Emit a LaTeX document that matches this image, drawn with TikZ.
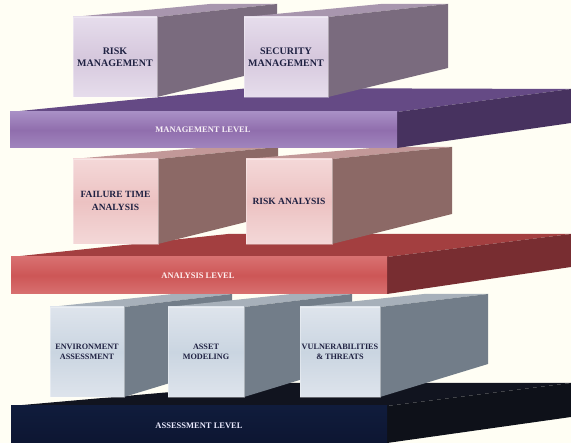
\documentclass[tikz,border=0pt]{standalone}
\usepackage{fontspec}
\setmainfont{Liberation Serif}
\usetikzlibrary{calc}

\definecolor{paper}{RGB}{255,254,244}
\definecolor{ink}{RGB}{31,33,66}
% management level
\definecolor{mgslabA}{RGB}{168,143,197}
\definecolor{mgslabB}{RGB}{144,110,173}
\definecolor{mgslabtop}{RGB}{101,74,133}
\definecolor{mgslabside}{RGB}{71,50,95}
\definecolor{mgboxA}{RGB}{230,221,236}
\definecolor{mgboxB}{RGB}{214,200,221}
\definecolor{mgboxtop}{RGB}{168,150,174}
\definecolor{mgboxside}{RGB}{122,107,126}
% analysis level
\definecolor{anslabA}{RGB}{216,112,112}
\definecolor{anslabB}{RGB}{205,86,86}
\definecolor{anslabtop}{RGB}{163,63,64}
\definecolor{anslabside}{RGB}{120,45,49}
\definecolor{anboxA}{RGB}{244,216,216}
\definecolor{anboxB}{RGB}{236,194,194}
\definecolor{anboxtop}{RGB}{194,152,152}
\definecolor{anboxside}{RGB}{140,105,102}
% assessment level
\definecolor{asslabA}{RGB}{16,28,60}
\definecolor{asslabB}{RGB}{13,22,50}
\definecolor{asslabtop}{RGB}{17,20,31}
\definecolor{asslabside}{RGB}{14,17,25}
\definecolor{asboxA}{RGB}{222,228,236}
\definecolor{asboxB}{RGB}{202,213,225}
\definecolor{asboxtop}{RGB}{167,176,186}
\definecolor{asboxside}{RGB}{114,125,137}

\tikzset{
  boxlabel/.style={font=\bfseries, text=ink, align=center, inner sep=0pt},
  levellabel/.style={font=\bfseries\fontsize{8.5}{10}\selectfont, inner sep=0pt},
  face/.style={draw=white, draw opacity=0.35, line width=0.3pt},
}

\begin{document}
\begin{tikzpicture}[x=1pt, y=-1pt]
  \useasboundingbox (0,0) rectangle (571,443);
  \fill[paper] (0,0) rectangle (571,443);
  \clip (0,0) rectangle (571,443);

  % assessment level
  \fill[asslabtop] (11,406) -- (387,406) -- (571,383) -- (274,383) -- cycle;
  \fill[asslabside] (387,406) -- (571,383) -- (571,417) -- (387,443) -- cycle;
  \shade[top color=asslabA, bottom color=asslabB] (11,406) rectangle (387,443);
  \node[levellabel, text=white!92!blue] (assesslevel) at (199,426) {ASSESSMENT LEVEL};

  \foreach \nm/\xa/\xb/\txt in {envassess/50/124/{ENVIRONMENT\\ASSESSMENT},
      assetmodel/168/244/{ASSET\\MODELING}, vulnthreat/300/380/{VULNERABILITIES\\\& THREATS}} {
    \pgfmathsetmacro{\xr}{\xb+108}
    \pgfmathsetmacro{\xl}{\xr-0.8*(\xb-\xa)}
    \fill[asboxtop] (\xa,307) -- (\xb,307) -- (\xr,294) -- (\xl,294) -- cycle;
    \fill[asboxside] (\xb,307) -- (\xr,294) -- (\xr,364) -- (\xb,397) -- cycle;
    \shade[face, top color=asboxA, bottom color=asboxA, middle color=asboxB] (\xa,307) rectangle (\xb,397);
    \node[boxlabel, font=\bfseries\fontsize{8.2}{10.6}\selectfont] (\nm) at ({(\xa+\xb)/2},352) {\txt};
  }

  % analysis level
  \fill[anslabtop] (11,257) -- (387,257) -- (571,234) -- (228,234) -- cycle;
  \fill[anslabside] (387,257) -- (571,234) -- (571,267) -- (387,294) -- cycle;
  \shade[top color=anslabA, bottom color=anslabA, middle color=anslabB] (11,257) rectangle (387,294);
  \node[levellabel, text=white!94!red] (analysislevel) at (198,276) {ANALYSIS LEVEL};

  \foreach \nm/\xa/\xb/\txt in {failtime/73/158/{FAILURE TIME\\ANALYSIS},
      riskanalysis/246/332/{RISK ANALYSIS}} {
    \pgfmathsetmacro{\xr}{\xb+120}
    \pgfmathsetmacro{\xl}{\xr-0.8*(\xb-\xa)}
    \fill[anboxtop] (\xa,159) -- (\xb,159) -- (\xr,147) -- (\xl,147) -- cycle;
    \fill[anboxside] (\xb,159) -- (\xr,147) -- (\xr,214) -- (\xb,244) -- cycle;
    \shade[face, top color=anboxA, bottom color=anboxA, middle color=anboxB] (\xa,159) rectangle (\xb,244);
    \node[boxlabel, font=\bfseries\fontsize{9.5}{13}\selectfont] (\nm) at ({(\xa+\xb)/2},201) {\txt};
  }

  % management level
  \fill[mgslabtop] (10,112) -- (397,112) -- (571,89) -- (250,88) -- cycle;
  \fill[mgslabside] (397,112) -- (571,89) -- (571,123) -- (397,148) -- cycle;
  \shade[top color=mgslabA, bottom color=mgslabA!70!mgslabB, middle color=mgslabB] (10,112) rectangle (397,148);
  \node[levellabel, text=white!94!violet] (mgmtlevel) at (203,130) {MANAGEMENT LEVEL};

  \foreach \nm/\xa/\xb/\txt in {riskmgmt/73/157/{RISK\\MANAGEMENT},
      secmgmt/244/328/{SECURITY\\MANAGEMENT}} {
    \pgfmathsetmacro{\xr}{\xb+120}
    \pgfmathsetmacro{\xl}{\xr-0.8*(\xb-\xa)}
    \fill[mgboxtop] (\xa,17) -- (\xb,17) -- (\xr,4) -- (\xl,4) -- cycle;
    \fill[mgboxside] (\xb,17) -- (\xr,4) -- (\xr,68) -- (\xb,97) -- cycle;
    \shade[face, top color=mgboxA, bottom color=mgboxA, middle color=mgboxB] (\xa,17) rectangle (\xb,97);
    \node[boxlabel, font=\bfseries\fontsize{10}{11.7}\selectfont] (\nm) at ({(\xa+\xb)/2},57) {\txt};
  }
\end{tikzpicture}
\end{document}
